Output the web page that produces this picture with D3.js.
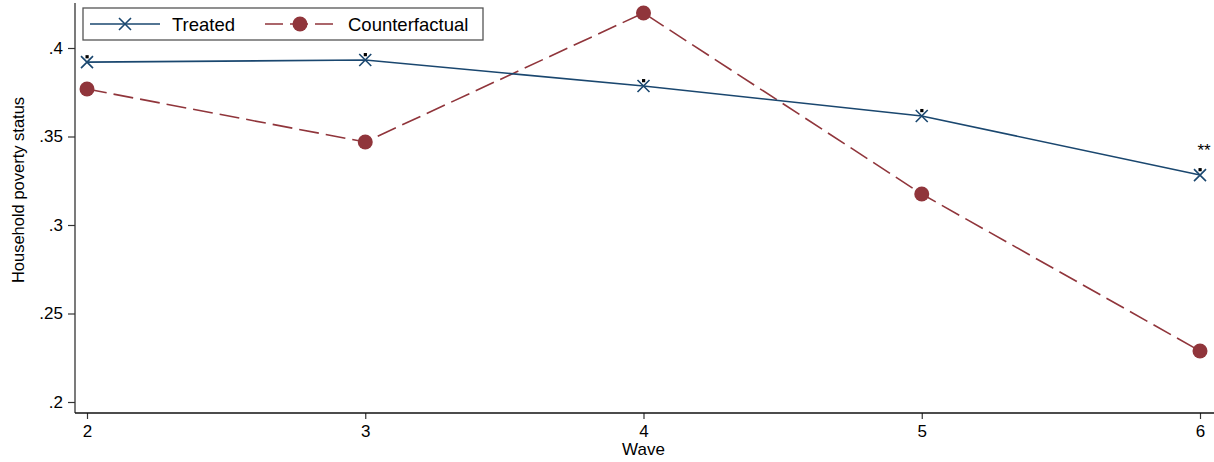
<!DOCTYPE html>
<html>
<head>
<meta charset="utf-8">
<script src="https://cdn.jsdelivr.net/npm/d3@7"></script>
<style>
  html, body { margin: 0; padding: 0; background: #fff; }
  text { font-family: "Liberation Sans", Arial, sans-serif; fill: #000; }
</style>
</head>
<body>
<svg id="chart" width="1214" height="462"></svg>
<script>
// Survey waves and mean household poverty status by group
const waves = [2, 3, 4, 5, 6];
const treated = [0.392, 0.3932, 0.3785, 0.3616, 0.3282];
const counterfactual = [0.3768, 0.3469, 0.4198, 0.3175, 0.2288];
const significance = ["", "", "", "", "**"];
const yTicks = [0.2, 0.25, 0.3, 0.35, 0.4];
const yTickLabels = [".2", ".25", ".3", ".35", ".4"];
const seriesNames = ["Treated", "Counterfactual"];

const navy = "#1a476f";
const maroon = "#90353b";

const svg = d3.select("#chart");

const x = d3.scaleLinear().domain([2, 6]).range([87, 1200]);
const y = d3.scaleLinear().domain([0.2, 0.4]).range([402, 48]);

const axisX = 75, axisY = 413;

// Axes
const yAxis = d3.axisLeft(y).tickValues(yTicks)
  .tickFormat((d, i) => yTickLabels[i]).tickSize(7).tickPadding(5);
const gy = svg.append("g").attr("transform", `translate(${axisX},0)`).call(yAxis);
gy.select(".domain").remove();
gy.append("line").attr("x1", 0).attr("x2", 0).attr("y1", 3).attr("y2", axisY)
  .attr("stroke", "#333").attr("stroke-width", 1.3);

const xAxis = d3.axisBottom(x).tickValues(waves).tickFormat(d3.format("d"))
  .tickSize(6).tickPadding(6);
const gx = svg.append("g").attr("transform", `translate(0,${axisY})`).call(xAxis);
gx.select(".domain").remove();
gx.append("line").attr("x1", axisX).attr("x2", 1214).attr("y1", 0).attr("y2", 0)
  .attr("stroke", "#111").attr("stroke-width", 1.5);

svg.selectAll(".tick line").attr("stroke", "#333").attr("stroke-width", 1.2);
svg.selectAll(".tick text").style("font-size", "17px")
  .style("font-family", "'Liberation Sans', Arial, sans-serif").attr("fill", "#000");

// Axis titles
svg.append("text").attr("x", x(4)).attr("y", 455).attr("text-anchor", "middle")
  .style("font-size", "17px").text("Wave");
svg.append("text").attr("transform", "translate(24,190) rotate(-90)")
  .attr("text-anchor", "middle").style("font-size", "16.5px")
  .text("Household poverty status");

const line = d3.line().x((d, i) => x(waves[i])).y(d => y(d));

// Counterfactual series (dashed, filled circles)
svg.append("path").datum(counterfactual).attr("d", line)
  .attr("fill", "none").attr("stroke", maroon).attr("stroke-width", 1.6)
  .attr("stroke-dasharray", "20,7");
svg.selectAll(".cf").data(counterfactual).enter().append("circle")
  .attr("cx", (d, i) => x(waves[i])).attr("cy", d => y(d)).attr("r", 7.5)
  .attr("fill", maroon);

// Treated series (solid, X markers)
svg.append("path").datum(treated).attr("d", line)
  .attr("fill", "none").attr("stroke", navy).attr("stroke-width", 1.6);

function xMarker(g, cx, cy, s) {
  g.append("path")
    .attr("d", `M${cx - s},${cy - s}L${cx + s},${cy + s}M${cx - s},${cy + s}L${cx + s},${cy - s}`)
    .attr("stroke", navy).attr("stroke-width", 1.6).attr("fill", "none");
}
treated.forEach((d, i) => {
  const cx = x(waves[i]), cy = y(d);
  xMarker(svg, cx, cy, 6);
  svg.append("rect").attr("x", cx - 1.5).attr("y", cy - 7).attr("width", 3.2).attr("height", 3.2)
    .attr("fill", "#000");
  if (significance[i]) {
    svg.append("text").attr("x", cx + 4).attr("y", cy - 19).attr("text-anchor", "middle")
      .style("font-size", "17px").text(significance[i]);
  }
});

// Legend
const lg = svg.append("g");
lg.append("rect").attr("x", 83).attr("y", 8).attr("width", 400).attr("height", 32)
  .attr("fill", "#fff").attr("stroke", "#555").attr("stroke-width", 1.3);
lg.append("line").attr("x1", 90).attr("x2", 160).attr("y1", 24).attr("y2", 24)
  .attr("stroke", navy).attr("stroke-width", 1.6);
xMarker(lg, 125, 24, 6);
lg.append("text").attr("x", 172).attr("y", 31).style("font-size", "18.5px").text(seriesNames[0]);
lg.append("line").attr("x1", 265).attr("x2", 337).attr("y1", 24).attr("y2", 24)
  .attr("stroke", maroon).attr("stroke-width", 1.6).attr("stroke-dasharray", "18,7");
lg.append("circle").attr("cx", 300).attr("cy", 24).attr("r", 7.5).attr("fill", maroon);
lg.append("text").attr("x", 348).attr("y", 31).style("font-size", "18.5px").text(seriesNames[1]);
</script>
</body>
</html>
